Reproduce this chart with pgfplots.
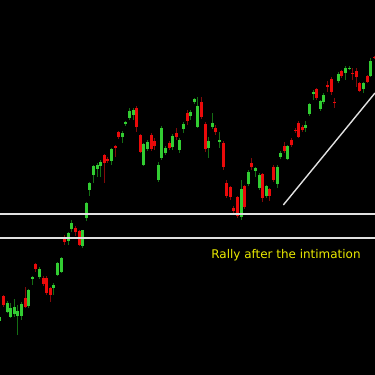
\documentclass[border=0pt]{standalone}
\usepackage{pgfplots}
\pgfplotsset{compat=1.18}
\usepackage{pgfplotstable}
\usepackage{fontspec}
\setmainfont{DejaVu Sans}
\definecolor{upbody}{RGB}{50,205,50}
\definecolor{dnbody}{RGB}{235,10,10}
\definecolor{upwick}{RGB}{20,110,20}
\definecolor{dnwick}{RGB}{130,10,10}
\definecolor{lvl}{RGB}{225,225,225}
\definecolor{txt}{RGB}{235,235,0}
% columns: x, body top, body bottom, wick high, wick low
\pgfplotstableread{
x bt bb wh wl
-0.2 58 54 60 52
7.0 72 63 74 62
10.6 67 58 72 57
14.2 68 61 76 58
17.8 64 59 70 40
21.4 71 59 73 55
28.6 85 69 86 67
32.2 98 96 99 90
39.4 106 98 108 96
53.8 90 87 92 80
57.4 112 100 113 99
61.0 117 103 118 102
68.2 142 134 143 130
71.8 152 146 155 143
82.6 145 129 145 127
86.2 172 157 173 154
89.8 192 185 193 179
93.4 209 200 210 192
97.0 210 206 212 198
100.6 213 209 215 198
111.4 226 214 227 210
122.2 242 238 244 232
125.8 253 251 254 249
129.4 264 257 267 255
133.0 265 260 267 255
143.8 231 210 232 209
147.4 233 226 235 224
158.2 210 195 213 193
161.8 247 217 249 215
165.4 227 222 229 220
172.6 239 228 241 225
179.8 235 225 237 222
183.4 251 246 253 242
190.6 263 259 265 255
194.2 276 273 277 271
197.8 269 248 278 247
208.6 234 227 238 217
212.2 252 248 262 246
219.4 235 233 243 227
241.0 186 158 195 155
248.2 203 191 205 189
255.4 207 204 208 198
259.0 200 187 202 185
266.2 189 179 190 177
277.0 208 191 210 187
280.6 222 218 224 216
287.8 229 216 230 215
305.8 250 247 254 243
309.4 271 261 272 259
313.0 283 281 285 275
320.2 274 266 275 264
323.8 280 273 282 271
338.2 301 294 303 292
345.4 307 302 309 295
349.0 307 306 309 305
363.4 292 286 293 282
370.6 314 299 317 298
}\up
\pgfplotstableread{
x bt bb wh wl
3.4 79 70 80 68
25.0 77 68 88 67
35.8 111 106 112 103
43.0 97 91 99 89
46.6 97 82 99 80
50.2 87 80 88 73
64.6 137 133 140 130
75.4 147 143 149 139
79.0 144 130 145 129
104.2 220 212 221 192
107.8 216 214 218 212
115.0 229 227 230 218
118.6 243 238 244 236
136.6 267 248 269 243
140.2 240 223 241 222
151.0 240 226 242 224
154.6 234 229 237 225
169.0 232 227 234 225
176.2 242 238 247 235
187.0 262 254 265 250
201.4 273 258 278 256
205.0 251 226 253 223
215.8 247 243 250 240
223.0 232 208 234 205
226.6 192 179 195 177
230.2 188 178 189 175
233.8 167 164 169 162
237.4 178 159 179 157
244.6 189 168 190 166
251.8 212 208 217 205
262.6 201 177 202 173
269.8 186 179 187 174
273.4 208 195 210 193
284.2 229 224 233 222
291.4 235 230 237 228
295.0 245 244 247 242
298.6 252 238 254 237
302.2 248 245 250 243
316.6 286 277 287 275
327.4 290 288 294 283
331.0 296 283 298 280
334.6 273 272 277 267
341.8 304 299 305 297
352.6 302 301 307 295
356.2 304 298 307 288
359.8 292 284 293 283
367.0 299 293 300 292
374.2 318 317 319 316
}\down
\begin{document}
\begin{tikzpicture}
\begin{axis}[
  width=375bp, height=375bp, scale only axis,
  xmin=0, xmax=375, ymin=0, ymax=375,
  axis line style={draw=none}, ticks=none,
  axis background/.style={fill=black},
  clip=true,
]
% wicks
\addplot[draw=upwick, line width=1bp, line cap=butt, mark=none, -,
  quiver={u=0, v=\thisrow{wh}-\thisrow{wl}}]
  table[x=x, y=wl] {\up};
\addplot[draw=dnwick, line width=1bp, line cap=butt, mark=none, -,
  quiver={u=0, v=\thisrow{wh}-\thisrow{wl}}]
  table[x=x, y=wl] {\down};
% bodies
\addplot[draw=upbody, line width=3bp, line cap=butt, mark=none, -,
  quiver={u=0, v=\thisrow{bt}-\thisrow{bb}}]
  table[x=x, y=bb] {\up};
\addplot[draw=dnbody, line width=3bp, line cap=butt, mark=none, -,
  quiver={u=0, v=\thisrow{bt}-\thisrow{bb}}]
  table[x=x, y=bb] {\down};
% levels and trend line
\addplot[lvl, line width=1.8bp] coordinates {(0,161) (375,161)};
\addplot[lvl, line width=1.8bp] coordinates {(0,137) (375,137)};
\addplot[lvl, line width=1.4bp] coordinates {(283.3,170) (375,282)};
\node[anchor=base, text=txt, font=\fontsize{12}{14}\selectfont, inner sep=0pt] at (axis cs:286,116.5) {Rally after the intimation};
\end{axis}
\end{tikzpicture}
\end{document}
